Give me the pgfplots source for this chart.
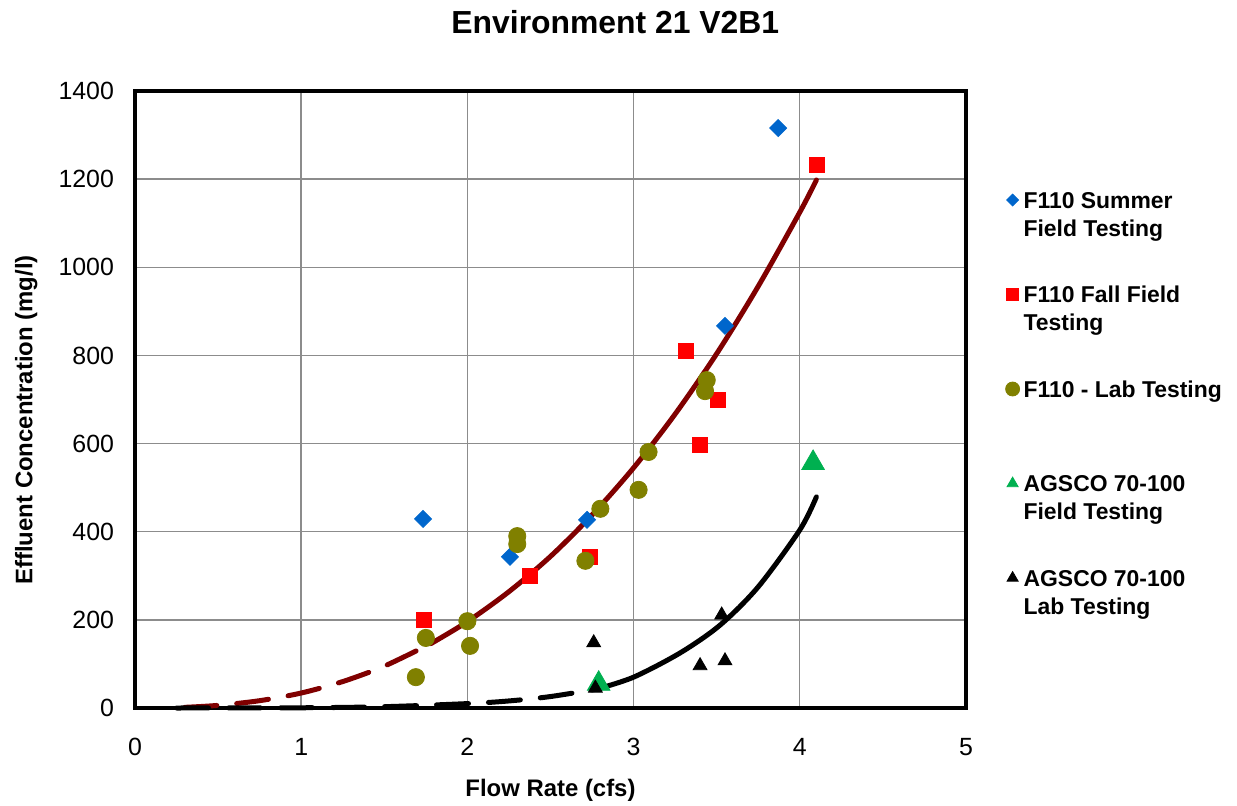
\documentclass[border=0pt]{standalone}
\usepackage{pgfplots}
\pgfplotsset{compat=1.18}
\usepackage{fontspec}
\setmainfont{Liberation Sans}
\definecolor{sumblue}{HTML}{0066CC}
\definecolor{fallred}{HTML}{FF0000}
\definecolor{labolive}{HTML}{808000}
\definecolor{aggreen}{HTML}{00B050}
\definecolor{trendred}{HTML}{800000}
\newcommand\lgd[1]{\begin{tabular}[t]{@{}l@{}}#1\end{tabular}}
\begin{document}
\begin{tikzpicture}
\path[use as bounding box] (-67.5bp,-49bp) rectangle (551bp,354bp);
\begin{axis}[
  at={(0,0)}, anchor=south west,
  scale only axis,
  width=415.5bp, height=308.5bp,
  xmin=0, xmax=5, ymin=0, ymax=1400,
  xtick={0,1,2,3,4,5}, ytick={0,200,...,1400},
  major tick length=0pt,
  grid=major,
  grid style={draw=gray!90, line width=0.7bp},
  axis line style={line width=2bp},
  /pgf/number format/assume math mode=true,
  /pgf/number format/1000 sep={},
  tick label style={font=\fontsize{12.5}{14}\selectfont},
  yticklabel style={xshift=-7bp},
  xticklabel style={yshift=-11.5bp},
  every axis title shift=0pt,
  title={Environment 21 V2B1},
  title style={font=\fontsize{16}{18}\selectfont\bfseries, at={(0.578,1.112)}, anchor=center},
  xlabel={Flow Rate (cfs)},
  xlabel style={font=\fontsize{12}{14}\selectfont\bfseries, at={(0.5,-0.133)}, anchor=center},
  ylabel={Effluent Concentration (mg/l)},
  ylabel style={font=\fontsize{12}{14}\selectfont\bfseries, at={(-0.131,0.467)}, anchor=center},
  legend style={at={(1.040,0.517)}, anchor=west, draw=none, fill=none,
    font=\fontsize{11.5}{14}\selectfont\bfseries, row sep=32bp,
    /tikz/every even column/.append style={column sep=2bp}},
  legend cell align=left,
  clip=false,
]
% trend lines
\addplot[trendred, line width=2.5bp, line cap=round, dash pattern=on 16bp off 10bp, smooth, forget plot]
  coordinates {(0.3,1.5) (0.5,6) (0.75,16.6) (1,34) (1.25,60) (1.5,95) (1.78,146)};
\addplot[trendred, line width=2.5bp, line cap=round, smooth, forget plot]
  coordinates {(1.78,146) (2,196) (2.25,264) (2.5,344) (2.75,438) (3,545) (3.25,667) (3.5,804) (3.75,957) (4,1125) (4.1,1198)};
\addplot[black, line width=2.5bp, line cap=round, dash pattern=on 16bp off 10bp, smooth, forget plot]
  coordinates {(0.25,0) (1,0.5) (1.5,3) (2,10) (2.25,16) (2.5,26) (2.78,43)};
\addplot[black, line width=2.5bp, line cap=round, smooth, forget plot]
  coordinates {(2.78,43) (3,70) (3.28,125) (3.52,188) (3.75,275) (4,404) (4.1,479)};
% data
\addplot[only marks, mark=square*, mark size=3bp, mark options={rotate=45, draw=sumblue, fill=sumblue}, forget plot]
  coordinates {(1.733,429) (2.256,343) (2.72,427) (3.55,867) (3.87,1316)};
\addplot[only marks, mark=square*, mark size=3.75bp, mark options={draw=fallred, fill=fallred}, forget plot]
  coordinates {(1.739,200) (2.377,300) (2.74,343) (3.315,810) (3.40,597) (3.51,699) (4.10,1232)};
\addplot[only marks, mark=*, mark size=4.3bp, mark options={draw=labolive, fill=labolive}, forget plot]
  coordinates {(1.69,70) (1.75,159) (2.0,197) (2.016,141) (2.30,390) (2.30,372) (2.71,334) (2.80,452) (3.03,495) (3.09,581) (3.44,744) (3.43,719)};
\addplot[only marks, mark=triangle*, mark size=6.5bp, mark options={draw=aggreen, fill=aggreen}, forget plot]
  coordinates {(4.08,556) (2.79,55)};
\addplot[only marks, mark=triangle*, mark size=4bp, mark options={draw=black, fill=black}, forget plot]
  coordinates {(2.76,148) (2.77,45) (3.40,96) (3.55,107) (3.53,211)};
% legend
\addlegendimage{only marks, mark=square*, mark size=2.1bp, mark options={rotate=45, draw=sumblue, fill=sumblue}}
\addlegendentry{\lgd{F110 Summer\\Field Testing}}
\addlegendimage{only marks, mark=square*, mark size=3bp, mark options={draw=fallred, fill=fallred}}
\addlegendentry{\lgd{F110 Fall Field\\Testing}}
\addlegendimage{only marks, mark=*, mark size=3.5bp, mark options={draw=labolive, fill=labolive}}
\addlegendentry{\lgd{F110 - Lab Testing\\\mbox{}}}
\addlegendimage{only marks, mark=triangle*, mark size=3.2bp, mark options={draw=aggreen, fill=aggreen}}
\addlegendentry{\lgd{AGSCO 70-100\\Field Testing}}
\addlegendimage{only marks, mark=triangle*, mark size=3.2bp, mark options={draw=black, fill=black}}
\addlegendentry{\lgd{AGSCO 70-100\\Lab Testing}}
\end{axis}
\end{tikzpicture}
\end{document}
